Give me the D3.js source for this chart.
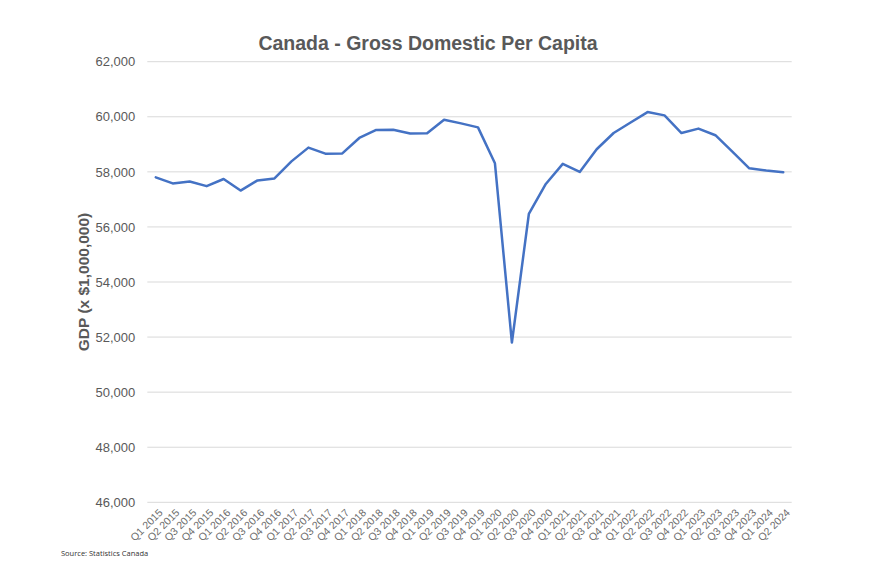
<!DOCTYPE html>
<html>
<head>
<meta charset="utf-8">
<script src="https://cdn.jsdelivr.net/npm/d3@7"></script>
<style>
  html, body { margin: 0; padding: 0; background: #ffffff; }
  svg { display: block; }
</style>
</head>
<body>
<svg id="chart" width="886" height="565"></svg>
<script>
const quarters = ["Q1 2015","Q2 2015","Q3 2015","Q4 2015","Q1 2016","Q2 2016","Q3 2016","Q4 2016",
  "Q1 2017","Q2 2017","Q3 2017","Q4 2017","Q1 2018","Q2 2018","Q3 2018","Q4 2018",
  "Q1 2019","Q2 2019","Q3 2019","Q4 2019","Q1 2020","Q2 2020","Q3 2020","Q4 2020",
  "Q1 2021","Q2 2021","Q3 2021","Q4 2021","Q1 2022","Q2 2022","Q3 2022","Q4 2022",
  "Q1 2023","Q2 2023","Q3 2023","Q4 2023","Q1 2024","Q2 2024"];
const gdpPerCapita = [57800, 57580, 57650, 57480, 57740, 57320, 57690, 57760,
  58380, 58880, 58660, 58670, 59230, 59520, 59530, 59390,
  59400, 59895, 59760, 59615, 58310, 51800, 56470, 57560,
  58290, 57995, 58820, 59410, 59790, 60170, 60050, 59410,
  59570, 59330, 58735, 58130, 58045, 57985];
const yTicks = [46000, 48000, 50000, 52000, 54000, 56000, 58000, 60000, 62000];
const titleText = "Canada - Gross Domestic Per Capita";
const yLabelText = "GDP (x $1,000,000)";
const sourceText = "Source: Statistics Canada";

const svg = d3.select("#chart");
const plot = { left: 147.3, right: 791.7, top: 61.7, bottom: 502.3 };

const x = d3.scalePoint().domain(quarters).range([plot.left, plot.right]).padding(0.5);
const y = d3.scaleLinear().domain([46000, 62000]).range([plot.bottom, plot.top]);

// gridlines
svg.append("g")
  .selectAll("line")
  .data(yTicks)
  .join("line")
  .attr("x1", plot.left).attr("x2", plot.right)
  .attr("y1", d => y(d)).attr("y2", d => y(d))
  .attr("stroke", "#d9d9d9").attr("stroke-width", 1);

// y axis labels
const yAxis = d3.axisLeft(y).tickValues(yTicks).tickSize(0).tickPadding(12)
  .tickFormat(d3.format(","));
svg.append("g")
  .attr("transform", `translate(${plot.left},0)`)
  .call(yAxis)
  .call(g => g.select(".domain").remove())
  .call(g => g.selectAll("text")
    .attr("font-family", "Liberation Sans, Arial, sans-serif")
    .attr("font-size", 13).attr("fill", "#595959"));

// x axis labels
const xAxis = d3.axisBottom(x).tickSize(0).tickPadding(0);
svg.append("g")
  .attr("transform", `translate(0,${plot.bottom})`)
  .call(xAxis)
  .call(g => g.select(".domain").remove())
  .call(g => g.selectAll("text")
    .attr("font-family", "Liberation Sans, Arial, sans-serif")
    .attr("font-size", 10.5).attr("fill", "#6b6b6b")
    .attr("text-anchor", "end")
    .attr("dy", "0")
    .attr("y", 0)
    .attr("transform", "translate(7,11) rotate(-45)"));

// line
const line = d3.line()
  .x((d, i) => x(quarters[i]))
  .y(d => y(d));
svg.append("path")
  .datum(gdpPerCapita)
  .attr("d", line)
  .attr("fill", "none")
  .attr("stroke", "#4472c4")
  .attr("stroke-width", 2.5)
  .attr("stroke-linejoin", "round")
  .attr("stroke-linecap", "round");

// title
svg.append("text")
  .attr("x", 428).attr("y", 50)
  .attr("text-anchor", "middle")
  .attr("font-family", "Liberation Sans, Arial, sans-serif")
  .attr("font-size", 19.5).attr("font-weight", "bold")
  .attr("fill", "#595959")
  .text(titleText);

// y label
svg.append("text")
  .attr("transform", `translate(89,${(plot.top + plot.bottom) / 2}) rotate(-90)`)
  .attr("text-anchor", "middle")
  .attr("font-family", "Liberation Sans, Arial, sans-serif")
  .attr("font-size", 15.5).attr("font-weight", "bold")
  .attr("fill", "#595959")
  .text(yLabelText);

// source
svg.append("text")
  .attr("x", 61).attr("y", 556)
  .attr("font-family", "Open Sans, sans-serif")
  .attr("font-size", 7.5)
  .attr("fill", "#333333")
  .text(sourceText);
</script>
</body>
</html>
